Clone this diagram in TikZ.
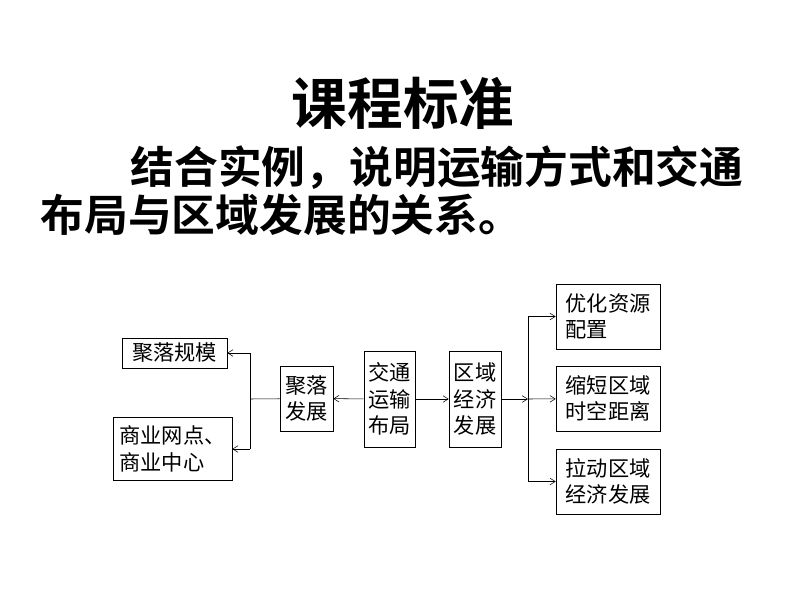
\documentclass[tikz,border=0pt]{standalone}
\usepackage{fontspec}
\newfontfamily\cjk{Noto Sans CJK SC}
\newfontfamily\cjkbold{Noto Sans CJK SC Bold}
\usetikzlibrary{positioning, arrows.meta}
\tikzset{
  box/.style={draw, thin, align=left, inner sep=2pt, font=\cjk\fontsize{16}{20}\selectfont},
  arr/.style={-{Straight Barb[length=4pt,width=5pt]}, thin}
}
\begin{document}
\begin{tikzpicture}[x=0.0265cm, y=-0.0265cm]
  \useasboundingbox (0,0) rectangle (794,596);
  % title and standard text
  \node (title) at (403,103) {\cjkbold\fontsize{42}{42}\selectfont 课程标准};
  \node[anchor=west] (line1) at (126,168) {\cjkbold\fontsize{33}{33}\selectfont 结合实例，说明运输方式和交通};
  \node[anchor=west] (line2) at (36,215) {\cjkbold\fontsize{33}{33}\selectfont 布局与区域发展的关系。};

  % boxes
  \node[box, minimum width=105*0.0265cm, minimum height=30*0.0265cm] (scale) at (174.5,353) {聚落规模};
  \node[box, minimum width=119*0.0265cm, minimum height=63*0.0265cm] (shop) at (172.5,449) {商业网点、\\商业中心};
  \node[box, minimum width=53*0.0265cm, minimum height=65*0.0265cm] (settle) at (306.5,398.5) {聚落\\发展};
  \node[box, minimum width=51*0.0265cm, minimum height=96*0.0265cm] (traffic) at (389.5,399) {交通\\运输\\布局};
  \node[box, minimum width=52*0.0265cm, minimum height=96*0.0265cm] (econ) at (475,399) {区域\\经济\\发展};
  \node[box, minimum width=104*0.0265cm, minimum height=65*0.0265cm] (opt) at (608,316.5) {优化资源\\配置};
  \node[box, minimum width=104*0.0265cm, minimum height=65*0.0265cm] (short) at (608,398.5) {缩短区域\\时空距离};
  \node[box, minimum width=104*0.0265cm, minimum height=65*0.0265cm] (pull) at (608,481.5) {拉动区域\\经济发展};

  \coordinate (rj) at (528,399);
  \coordinate (lj) at (250,399);

  % connectors
  \draw[arr] (traffic) -- (econ);
  \draw[arr] (traffic) -- (settle);
  \draw[arr] (econ) -- (rj);
  \draw (rj |- opt) -- (rj |- pull);
  \draw[arr] (rj |- opt) -- (opt);
  \draw[arr] (rj) -- (short);
  \draw[arr] (rj |- pull) -- (pull);
  \draw (settle) -- (lj);
  \draw (lj |- scale) -- (lj |- shop);
  \draw[arr] (lj |- scale) -- (scale);
  \draw[arr] (lj |- shop) -- (shop);
\end{tikzpicture}
\end{document}
